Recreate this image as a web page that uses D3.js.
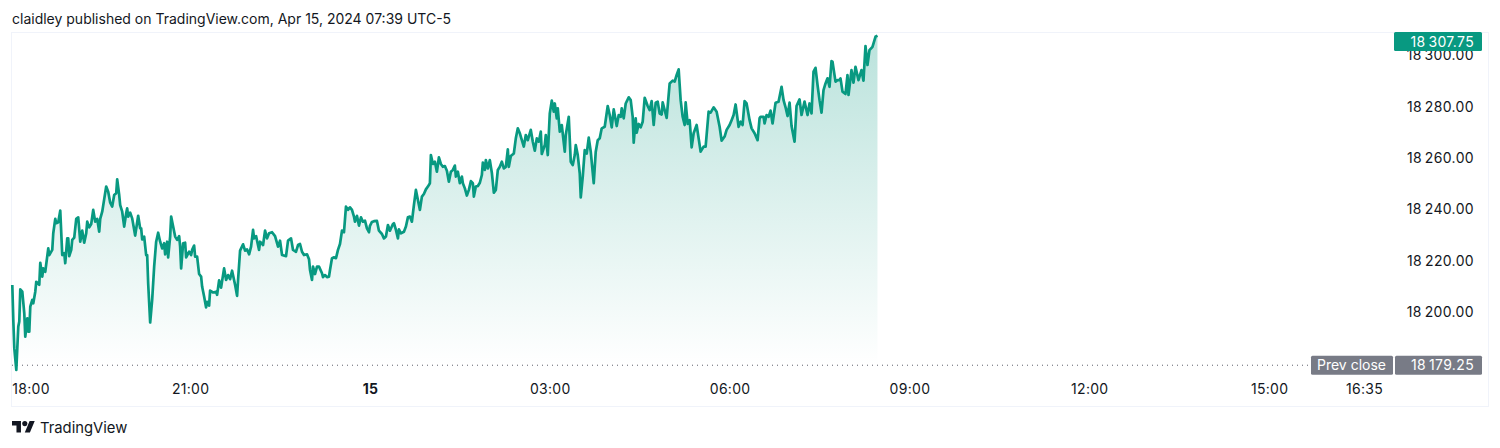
<!DOCTYPE html>
<html>
<head>
<meta charset="utf-8">
<script src="https://cdn.jsdelivr.net/npm/d3@7"></script>
<style>
  html, body { margin: 0; padding: 0; background: #fff; }
  svg { display: block; }
  text { font-family: Inter, "Noto Sans", sans-serif; fill: #131722; }
</style>
</head>
<body>
<svg id="chart" width="1500" height="448"></svg>
<script>
// minutes after the 18:00 session open
const minutes = [
  2,3,4,6,8,9,10,12,14,15,17,18,19,20,22,23,25,26,29,30,32,33,35,38,39,42,43,45,46,48,
  50,52,54,55,57,58,59,61,62,64,66,68,70,72,74,76,77,79,81,83,85,87,89,90,92,94,96,98,100,102,
  104,106,107,109,110,112,114,116,117,118,120,122,125,128,130,131,132,134,136,137,138,140,142,144,146,148,150,152,154,155,
  157,158,160,161,163,165,167,169,170,171,173,175,176,179,181,182,184,185,187,189,191,192,194,196,197,199,200,203,206,207,
  209,211,214,216,218,220,222,225,227,228,230,233,235,237,239,241,243,244,246,249,250,253,255,257,259,262,265,268,270,272,
  276,278,281,283,286,288,
  290,292,294,297,299,300,302,303,305,307,309,312,313,315,317,319,320,322,324,326,328,330,332,334,336,338,340,342,344,345,
  347,349,351,353,355,357,359,360,362,364,367,369,372,374,376,378,380,383,384,386,388,389,391,394,396,398,400,402,404,406,
  408,410,412,414,416,418,420,421,423,425,427,429,431,433,435,437,439,441,443,445,446,448,450,452,453,455,457,459,461,463,
  464,466,468,470,472,473,475,476,478,480,482,484,486,488,490,492,494,496,498,499,501,504,506,508,510,511,514,516,518,521,
  523,525,527,529,531,532,535,536,538,540,542,544,545,547,548,550,552,555,556,559,561,563,565,566,568,570,571,573,575,577,579,
  581,584,586,588,590,592,595,598,600,602,604,607,609,611,612,614,616,619,621,623,624,626,627,629,631,633,635,638,640,642,
  644,646,648,650,652,653,655,657,660,663,665,667,669,671,673,675,676,678,680,682,684,687,689,691,694,696,699,701,704,707,
  710,712,715,717,720,722,724,726,729,731,733,735,737,740,742,745,748,750,751,754,755,757,759,761,763,766,769,772,774,776,
  778,780,782,785,787,790,792,795,798,800,802,804,806,808,810,812,814,816,818,820,822,823,826,828,830,831,833,836,838,839,
  842,844,846,849,852,854,856,858,860,863,866,868
];

const prices = [
  18210.5,18196.9,18185.9,18177.4,18194.3,18196.3,18208.8,18207.9,18199.5,18190.4,18197.5,18192.3,18192.3,18202.1,18204.7,18203.4,18207.9,18211.8,18210.6,18219.2,18213.8,18217,18215.7,18224.8,18222.2,18224.2,18230.7,18236.3,18234.6,18235,
  18239.5,18222.2,18222.9,18219,18228.7,18228.7,18221.8,18224.2,18228.1,18229,18236.3,18236.9,18227.4,18231.7,18227,18230.7,18235.2,18233,18234.3,18239.8,18235.2,18236.3,18231.3,18236.3,18239.1,18244,18248.9,18246.9,18242.6,18241.1,
  18245.6,18246.3,18251.7,18245.6,18241.7,18239.1,18233.3,18238.5,18240.4,18237.2,18238.7,18236.5,18229.8,18237.5,18232.6,18232.6,18228.3,18229.4,18222.2,18222.2,18211.2,18195.9,18204.7,18217.7,18227.4,18230.9,18227.4,18224.8,18226.8,18222.5,
  18227.4,18221.3,18229.4,18237.2,18233.3,18229.4,18228.1,18229.6,18225.5,18217,18226.8,18227,18221.3,18223.5,18222.2,18224.2,18225.9,18221.6,18221.6,18214.8,18213.8,18209.9,18206,18201.8,18204,18202.5,18208.3,18207.6,18207.9,18206.7,
  18212.3,18209.5,18217,18212.5,18214.4,18212.8,18216.1,18210.6,18206.3,18212.5,18223.9,18226.4,18223.9,18224.4,18222.5,18225.5,18232,18228.7,18229.6,18224.2,18227.4,18226.1,18231.7,18228.7,18230.7,18231.1,18229.6,18225.5,18227.8,18222.2,
  18221.8,18227.8,18228.7,18224.2,18223.5,18226.1,
  18226.5,18223.5,18222.2,18222.5,18220.6,18216.4,18212.5,18217.7,18214.8,18217.7,18217.7,18215.1,18213.6,18214.4,18213.6,18213.8,18216.4,18221,18221.3,18221,18224.2,18226.5,18231.7,18231.1,18241.1,18239.8,18240.8,18239.8,18237.2,18235.2,
  18237.5,18233.7,18236.9,18235.2,18235.6,18232.6,18231.1,18233.6,18235.1,18235.4,18235.5,18231.7,18230.4,18228.7,18229.4,18233.9,18231.7,18234.3,18234.6,18232,18228.7,18232.2,18230.7,18231.3,18233.3,18236.9,18237.2,18235.2,18241.7,18247.6,
  18243.7,18239.8,18245,18246,18247.8,18248.9,18250.2,18261.2,18257.7,18258.6,18254.7,18260.3,18257.7,18256.6,18256.9,18255.1,18250.8,18254.7,18255.4,18257.1,18252.8,18254.7,18250.2,18252.8,18250.2,18248.2,18245.4,18247.6,18251,18250.2,
  18245,18248.9,18249.1,18250.4,18253.4,18258.2,18255.4,18259.2,18256,18259.2,18254.3,18246.5,18247.6,18255.4,18256.6,18258.6,18256,18256.6,18263.4,18256.6,18260.8,18261.8,18267.7,18271.6,18269.7,18268.4,18264.5,18269,18267,18271,
  18266.4,18262.9,18267.7,18266.4,18270.3,18261.6,18265.1,18269,18261.2,18277.4,18282.4,18278.1,18281.3,18275.5,18279.4,18270.3,18272.9,18262.5,18269,18276.1,18258.6,18257.3,18261.2,18265.1,18261.2,18254,18244.7,18252.8,18263.1,18261.8,18268,
  18262.5,18250.2,18262.5,18267,18267.7,18271.6,18272.2,18280.3,18276.8,18272,18279,18272.5,18276.8,18276.1,18279.4,18275.5,18281.3,18283.7,18282.6,18276.1,18266,18275.5,18269.9,18273.3,18272,18274.2,18283.5,18280.3,18278.7,18282.2,
  18272.9,18281.6,18282,18277.4,18277,18281.7,18278.7,18275.7,18289.1,18290.2,18289.8,18292.4,18294.6,18282.6,18276.1,18272.9,18281.7,18273.3,18274.8,18264.2,18269.7,18272.9,18267.7,18262.5,18264.5,18264.5,18278.1,18277.7,18279.8,18278.1,
  18272.2,18266.8,18268.4,18271,18272.9,18274.8,18276.8,18280.9,18272.2,18274.2,18272.9,18282.2,18281.3,18274.8,18271.6,18269.7,18267,18275.5,18276.1,18276.1,18273.5,18276.8,18276.1,18278.5,18273.5,18281.6,18282,18287.8,18282.6,18279.8,
  18276.4,18281.6,18272.5,18266.4,18280.3,18282.9,18276.8,18282,18276.8,18281.3,18277.4,18293.7,18295.2,18288.5,18282.6,18277.7,18286.5,18289.1,18291.1,18287.8,18297.8,18297.6,18289.8,18290.4,18290.4,18291.1,18285.9,18285,18292.4,18284.6,
  18294.3,18289.4,18295.6,18290.4,18294.3,18290.2,18303.7,18296.3,18302.1,18303.4,18307.3,18307.75
];

const priceTicks = [18200, 18220, 18240, 18260, 18280, 18300];
const timeTicks = [0, 180, 360, 540, 720, 900, 1080, 1260, 1355];
const timeLabels = ["18:00", "21:00", "15", "03:00", "06:00", "09:00", "12:00", "15:00", "16:35"];
const lastPrice = 18307.75;
const prevClose = 18179.25;

const green = "#089981";
const grey = "#787b86";
const fmt = v => d3.format(".2f")(v).replace(/^(\d+)(\d{3}\.)/, "$1\u2009$2");

const svg = d3.select("#chart");
const x = d3.scaleLinear().domain([0, 1355]).range([10.3, 1364]);
const y = d3.scaleLinear().domain([18200, 18300]).range([312, 55.5]);
const points = minutes.map((m, i) => ({ m: m, p: prices[i] }));

svg.append("text")
  .attr("x", 12).attr("y", 24)
  .attr("font-size", 14)
  .text("claidley published on TradingView.com, Apr 15, 2024 07:39 UTC-5");

// frame
svg.append("rect")
  .attr("x", 11.5).attr("y", 32.5)
  .attr("width", 1477).attr("height", 374)
  .attr("fill", "none").attr("stroke", "#f0f3fa");

// area gradient
const grad = svg.append("defs").append("linearGradient")
  .attr("id", "fade").attr("gradientUnits", "userSpaceOnUse")
  .attr("x1", 0).attr("x2", 0)
  .attr("y1", y(lastPrice)).attr("y2", y(prevClose));
grad.append("stop").attr("offset", 0).attr("stop-color", green).attr("stop-opacity", 0.28);
grad.append("stop").attr("offset", 1).attr("stop-color", green).attr("stop-opacity", 0);

const area = d3.area().x(d => x(d.m)).y0(y(prevClose)).y1(d => y(d.p));
svg.append("path").datum(points).attr("d", area).attr("fill", "url(#fade)");

// prev close dotted line
svg.append("line")
  .attr("x1", 12).attr("x2", 1311)
  .attr("y1", y(prevClose)).attr("y2", y(prevClose))
  .attr("stroke", "#5d606b").attr("stroke-width", 1)
  .attr("stroke-dasharray", "1 4");

const line = d3.line().x(d => x(d.m)).y(d => y(d.p));
svg.append("path").datum(points).attr("d", line)
  .attr("fill", "none").attr("stroke", green)
  .attr("stroke-width", 2.7).attr("stroke-linejoin", "round");

// price axis
const yAxis = svg.append("g")
  .attr("transform", "translate(1474,0)")
  .call(d3.axisLeft(y).tickValues(priceTicks).tickSize(0).tickPadding(0).tickFormat(fmt));
yAxis.select(".domain").remove();
yAxis.selectAll("text")
  .attr("font-size", 14).attr("fill", "#131722")
  .attr("letter-spacing", 0.35)
  .style("font-family", "Inter, sans-serif");

// time axis
const xAxis = svg.append("g")
  .attr("transform", "translate(0,380)")
  .call(d3.axisBottom(x).tickValues(timeTicks).tickSize(0).tickPadding(4)
    .tickFormat((d, i) => timeLabels[i]));
xAxis.select(".domain").remove();
xAxis.selectAll("text")
  .attr("font-size", 14).attr("fill", "#131722")
  .attr("letter-spacing", 0.3)
  .attr("font-weight", (d, i) => timeLabels[i] === "15" ? 700 : 400)
  .style("font-family", "Inter, sans-serif");
xAxis.selectAll("text").filter((d, i) => i === 0)
  .attr("text-anchor", "start").attr("x", 1.5);

// badges on the price scale, the top one stops at the frame
function badge(bx, w, value, fill, label, lx, spacing) {
  const by = Math.max(32, y(value) - 9.5);
  svg.append("rect").attr("x", bx).attr("y", by).attr("width", w).attr("height", 19)
    .attr("rx", 1.5).attr("fill", fill);
  svg.append("text").attr("x", lx).attr("y", by + 14.5)
    .attr("text-anchor", "end").attr("font-size", 14)
    .attr("letter-spacing", spacing)
    .style("fill", "#fff").text(label);
}
badge(1394, 88, lastPrice, green, fmt(lastPrice), 1474, 0.35);
badge(1311, 82, prevClose, grey, "Prev close", 1386, 0);
badge(1395, 87, prevClose, grey, fmt(prevClose), 1474, 0.35);

// footer logo
const logo = svg.append("g").attr("transform", "translate(12,418.5) scale(0.64)").attr("fill", "#131722");
logo.append("path").attr("d", "M14 22H7V11H0V4h14v18zM28 22h-8l7.5-18h8L28 22z");
logo.append("circle").attr("cx", 20).attr("cy", 8).attr("r", 4);
svg.append("text").attr("x", 40).attr("y", 433)
  .attr("font-size", 14.8).text("TradingView");
</script>
</body>
</html>
